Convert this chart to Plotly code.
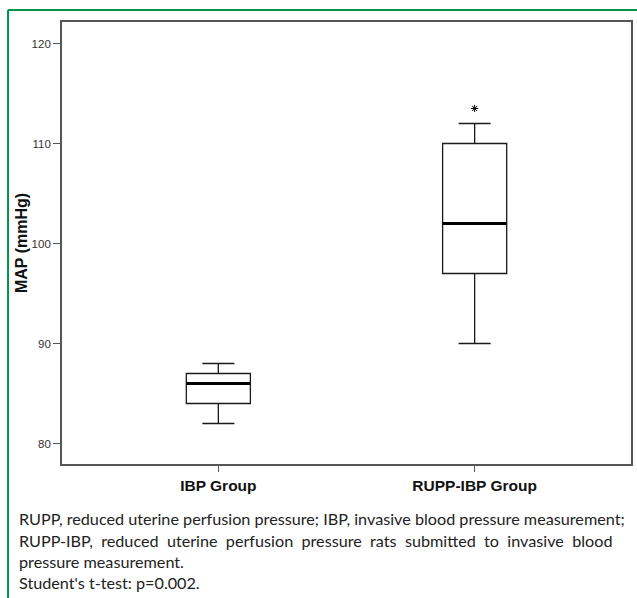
import plotly.graph_objects as go

# ---- data ----
groups = ["IBP Group", "RUPP-IBP Group"]
lower_whisker = [82, 90]
q1 = [84, 97]
median = [86, 102]
q3 = [87, 110]
upper_whisker = [88, 112]
extreme_group = ["RUPP-IBP Group"]
extreme_value = [113.5]
y_ticks = [80, 90, 100, 110, 120]
caption_lines = [
    "RUPP, reduced uterine perfusion pressure; IBP, invasive blood pressure measurement;",
    "RUPP-IBP,\u00a0 reduced\u00a0 uterine\u00a0 perfusion\u00a0 pressure\u00a0 rats\u00a0 submitted\u00a0 to\u00a0 invasive\u00a0 blood",
    "pressure measurement.",
    "Student's t-test: p=0.002.",
]

# ---- layout geometry (pixels) ----
W, H = 637, 598
plot_left, plot_right, plot_top, plot_bottom = 62, 631.5, 22, 464
L, R, T, B = plot_left, W - plot_right, plot_top, H - plot_bottom
pw, ph = plot_right - plot_left, plot_bottom - plot_top


def px(x):
    return (x - plot_left) / pw


def py(y):
    return (plot_bottom - y) / ph


fig = go.Figure()

fig.add_trace(go.Box(
    x=groups, q1=q1, median=median, q3=q3,
    lowerfence=lower_whisker, upperfence=upper_whisker,
    width=0.25, whiskerwidth=0.5,
    fillcolor="white", line=dict(color="#1a1a1a", width=1.3),
    boxpoints=False, showlegend=False, hoverinfo="skip",
))
# thicker median line
fig.add_trace(go.Box(
    x=groups, q1=median, median=median, q3=median,
    lowerfence=median, upperfence=median,
    width=0.25, whiskerwidth=0,
    fillcolor="rgba(0,0,0,0)", line=dict(color="#000000", width=3),
    boxpoints=False, showlegend=False, hoverinfo="skip",
))
fig.add_trace(go.Scatter(
    x=extreme_group, y=extreme_value, mode="markers",
    marker=dict(symbol="asterisk-open", size=6, color="#000",
                line=dict(color="#222", width=1)),
    showlegend=False, hoverinfo="skip",
))

axis_line = "#555555"
fig.update_xaxes(
    type="category", range=[-0.61, 1.61],
    showline=True, mirror=True, linecolor=axis_line, linewidth=1.8,
    ticks="outside", ticklen=6, tickcolor=axis_line, tickwidth=1.2,
    tickfont=dict(family="Liberation Sans, Arial", size=15.5, color="#111", weight="bold"),
    showgrid=False, zeroline=False,
)
fig.update_yaxes(
    range=[77.95, 122.15], tickvals=y_ticks,
    showline=True, mirror=True, linecolor=axis_line, linewidth=1.8,
    ticks="outside", ticklen=7, tickcolor=axis_line, tickwidth=1.2,
    tickfont=dict(family="Liberation Sans, Arial", size=11.5, color="#333"),
    showgrid=False, zeroline=False,
    title=dict(text="<b>MAP (mmHg)</b>", standoff=0,
               font=dict(family="Liberation Sans, Arial", size=16, color="#111")),
)

green = "#00934a"
shapes = [
    dict(type="line", xref="paper", yref="paper",
         x0=px(8), x1=px(W + 5), y0=py(10), y1=py(10),
         line=dict(color=green, width=2)),
    dict(type="line", xref="paper", yref="paper",
         x0=px(8), x1=px(8), y0=py(10), y1=py(H + 5),
         line=dict(color=green, width=2)),
]

annotations = []
line_y = [518, 540, 561, 582]
for txt, yy in zip(caption_lines, line_y):
    annotations.append(dict(
        text=txt, xref="paper", yref="paper", x=px(17), y=py(yy),
        xanchor="left", yanchor="middle", showarrow=False,
        font=dict(family="Lato", size=16.2, color="#222"),
    ))

fig.update_layout(
    width=W, height=H,
    margin=dict(l=L, r=R, t=T, b=B, autoexpand=False),
    paper_bgcolor="white", plot_bgcolor="white",
    boxmode="overlay", shapes=shapes, annotations=annotations,
)

# remove the browser's default 8px body margin so the figure fills the window
fig.write_html(
    "out.html",
    config={"displayModeBar": False},
    post_script="document.body.style.margin='0';document.body.style.overflow='hidden';",
)
